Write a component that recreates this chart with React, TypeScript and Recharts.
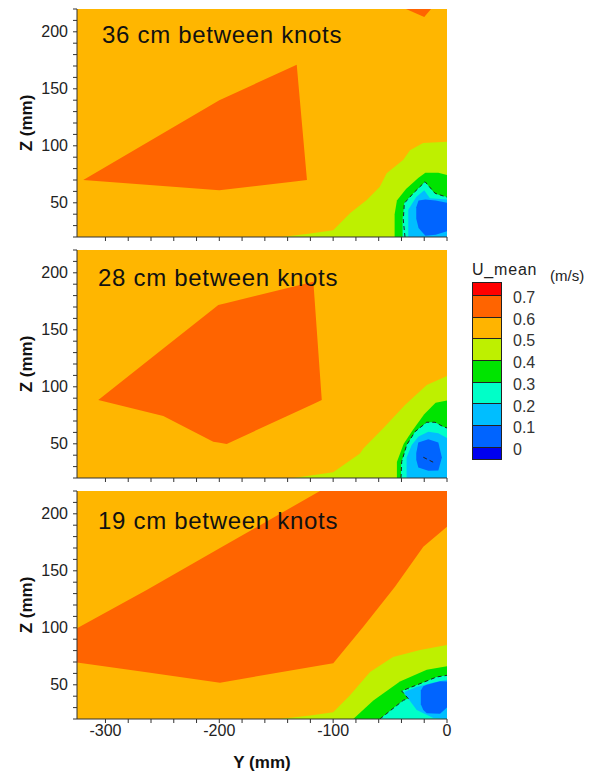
import { ComposedChart, Area, Line, XAxis, YAxis, CartesianGrid } from "recharts"

// contour levels, top of the colour bar first
const levels = ["0.7", "0.6", "0.5", "0.4", "0.3", "0.2", "0.1", "0"]
const levelColors = ["#FF0000", "#FF6400", "#FFB400", "#BEF000", "#00E400", "#00FFC8", "#00BEFF", "#0064FF", "#0000F0"]

const C_HOT = "#FF6400"
const C_BASE = "#FFB600"
const C_YG = "#BEF000"
const C_GREEN = "#00E400"
const C_AQUA = "#00FFC8"
const C_LBLUE = "#00BEFF"
const C_BLUE = "#0064FF"

const xTicks = [-300, -280, -260, -240, -220, -200, -180, -160, -140, -120, -100, -80, -60, -40, -20, 0]
const zTicks = [20, 30, 40, 50, 60, 70, 80, 90, 100, 110, 120, 130, 140, 150, 160, 170, 180, 190, 200, 210, 220]

// band regions: [Y, lower Z, upper Z]
const p1Hot: [number, number, number][] = [[-319.5, 70, 70], [-200, 61, 140], [-132, 69, 171], [-123, 70, 70]]
const p1HotTop: [number, number, number][] = [[-36, 220, 220], [-20, 213, 220], [-14, 220, 220]]
const p1Yg: [number, number, number][] = [[-145, 20, 20], [-120, 20, 23], [-100, 20, 26], [-85, 20, 41], [-70.5, 20, 52.5], [-59, 20, 64], [-53, 20, 76], [-38.6, 20, 87.6], [-32.5, 20, 96], [-21, 20, 102.5], [0, 20, 103.5]]
const p1Green: [number, number, number][] = [[-46, 20, 40], [-44, 20, 52], [-36, 20, 62], [-25, 20, 72], [-19, 20, 76.4], [-7.6, 20, 76.4], [0, 20, 74.4]]
const p1Aqua: [number, number, number][] = [[-39, 20, 36], [-37.5, 20, 50], [-30, 20, 58], [-19.3, 20, 68.5], [-10.5, 20, 58], [0, 20, 55]]
const p1LBlue: [number, number, number][] = [[-34, 20, 44], [-27, 20, 55], [-20, 20, 61], [-15, 20, 54], [0, 20, 53]]
const p1Blue: [number, number, number][] = [[-27, 36, 46], [-25, 28, 52], [-19, 21, 53], [-10, 22, 52], [0, 25, 50]]
const p1Dash: [number, number][] = [[-36.9, 20], [-38.4, 35], [-37.5, 49.6], [-29.6, 58.4], [-19.3, 68.5], [-10.5, 58.4], [0, 54.9]]

const p2Hot: [number, number, number][] = [[-306.3, 88.4, 88.4], [-249.2, 74.4, 133.6], [-205.3, 51.9, 168.3], [-200.9, 51.2, 171.8], [-193.5, 49.9, 173.6], [-140.8, 74.2, 186.4], [-117.4, 85, 192.2], [-110, 88.4, 88.4]]
const p2Yg: [number, number, number][] = [[-135, 20, 20], [-100, 20, 25], [-76.4, 20, 41.4], [-73.5, 20, 45.8], [-56, 20, 63.6], [-36.9, 20, 84], [-17.8, 20, 101.6], [0, 20, 109.5]]
const p2Green: [number, number, number][] = [[-44, 20, 34], [-38, 20, 50], [-30, 20, 62], [-20, 20, 76], [-10, 20, 86], [0, 20, 88]]
const p2Aqua: [number, number, number][] = [[-40.4, 20, 30], [-39.8, 20, 34.4], [-35.4, 20, 49], [-28.1, 20, 60.6], [-17.8, 20, 68.9], [-10.5, 20, 68.9], [-3.2, 20, 65], [0, 20, 63.9]]
const p2LBlue: [number, number, number][] = [[-35.5, 20, 38], [-31, 20, 49], [-25, 20, 56.3], [-16.4, 20, 60.6], [-7.6, 20, 59.2], [0, 20, 55]]
const p2Blue: [number, number, number][] = [[-27, 36, 42], [-25.2, 29.2, 51.2], [-16.4, 26.3, 54.1], [-7.6, 26.5, 51.2], [-4.5, 38, 38]]
const p2Dash: [number, number][] = [[-40.4, 20], [-39.8, 34.4], [-35.4, 49], [-28.1, 60.6], [-17.8, 68.9], [-10.5, 68.9], [-3.2, 65], [0, 63.9]]
const p2Dash2: [number, number][] = [[-20.8, 38.2], [-12, 33.8]]

const p3Hot: [number, number, number][] = [[-325, 69.5, 99.6], [-263.8, 61, 133.2], [-199.4, 51.9, 169.9], [-111.6, 66.9, 220], [-99.9, 68.9, 220], [-73.5, 101, 220], [-45.7, 136.1, 220], [-20.8, 171.2, 220], [0, 188.7, 220]]
const p3Yg: [number, number, number][] = [[-147, 20, 20], [-120, 20, 23], [-100, 20, 26], [-85, 20, 41], [-67.6, 20, 61.3], [-47.4, 20, 74.4], [-23.7, 20, 80.6], [0, 20, 85]]
const p3Green: [number, number, number][] = [[-82.3, 20, 20], [-64.7, 20, 36.2], [-41.3, 20, 52.8], [-17.8, 20, 63.3], [0, 20, 66.2]]
const p3AquaA: [number, number, number][] = [[-59, 20, 20], [-38.4, 20, 36.4], [-34, 20, 37.9], [-33.9, 20, 46.9], [-23.7, 20, 51], [-9, 20, 56.9], [0, 20, 58.3]]
const p3AquaB: [number, number, number][] = [[-39.8, 44.6, 44.6], [-34, 37.9, 46.9]]
const p3LBlue: [number, number, number][] = [[-37, 42, 44], [-26.6, 28, 48], [-12, 20.8, 52], [0, 20, 54.4]]
const p3Blue: [number, number, number][] = [[-23, 33, 45], [-20.8, 28, 48.7], [-17.8, 25, 50], [-6.1, 24.5, 53.1], [0, 30, 53]]
const p3Dash: [number, number][] = [[-59, 20], [-38.4, 36.4], [-34, 37.9], [-39.8, 44.6], [-23.7, 51], [-9, 56.9], [0, 58.3]]

const toRange = (rows: [number, number, number][]) => rows.map(([y, lo, hi]) => ({ y, r: [lo, hi] }))
const toLine = (rows: [number, number][]) => rows.map(([y, z]) => ({ y, z }))

const FONT = "'Liberation Sans', Arial, sans-serif"

type Layer = { rows: [number, number, number][]; color: string }

const ZTick = (props: any) => {
  const { x, y, payload } = props
  if (payload.value % 50 !== 0) return <g />
  return (
    <text x={x} y={y} textAnchor="end" dominantBaseline="central" fontFamily={FONT} fontSize={16} fill="#222">
      {payload.value}
    </text>
  )
}

const makeXTick = (show: boolean) => (props: any) => {
  const { x, y, payload } = props
  if (!show || payload.value % 100 !== 0) return <g />
  return (
    <text x={x} y={y} dy="0.71em" textAnchor="middle" fontFamily={FONT} fontSize={16} fill="#222">
      {payload.value}
    </text>
  )
}

function Panel({ layers, dashes, bottom }: { layers: Layer[]; dashes: [number, number][][]; bottom: boolean }) {
  const xh = bottom ? 60 : 10
  return (
    <ComposedChart width={594} height={9 + 228 + xh} margin={{ top: 9, right: 147, bottom: 0, left: 17 }}>
      <CartesianGrid fill={C_BASE} stroke="none" horizontal={false} vertical={false} />
      <XAxis
        type="number"
        dataKey="y"
        domain={[-325, 0]}
        allowDataOverflow
        ticks={xTicks}
        interval={0}
        height={xh}
        tickSize={4}
        tickMargin={2}
        tick={makeXTick(bottom)}
        stroke="#333"
        label={bottom ? { value: "Y (mm)", position: "insideBottom", offset: 11, style: { fontFamily: FONT, fontSize: 17, fontWeight: "bold", fill: "#111" } } : undefined}
      />
      <YAxis
        type="number"
        domain={[20, 220]}
        allowDataOverflow
        ticks={zTicks}
        interval={0}
        width={60}
        tickSize={4}
        tickMargin={5}
        tick={<ZTick />}
        stroke="#333"
        label={{ value: "Z (mm)", angle: -90, position: "insideLeft", offset: 9, style: { textAnchor: "middle", fontFamily: FONT, fontSize: 17, fontWeight: "bold", fill: "#111" } }}
      />
      {layers.map((l, i) => (
        <Area
          key={"a" + i}
          data={toRange(l.rows)}
          dataKey="r"
          type="linear"
          stroke="none"
          fill={l.color}
          fillOpacity={1}
          dot={false}
          activeDot={false}
          isAnimationActive={false}
        />
      ))}
      {dashes.map((d, i) => (
        <Line
          key={"d" + i}
          data={toLine(d)}
          dataKey="z"
          type="linear"
          stroke="#222"
          strokeWidth={1}
          strokeDasharray="4 3"
          dot={false}
          activeDot={false}
          isAnimationActive={false}
        />
      ))}
    </ComposedChart>
  )
}

const titleStyle = (top: number, left: number): React.CSSProperties => ({
  position: "absolute",
  top,
  left,
  fontFamily: FONT,
  fontSize: 24,
  lineHeight: "24px",
  letterSpacing: 0.7,
  color: "#111",
  whiteSpace: "nowrap",
})

function ColorBar() {
  const heights = [12, 21.7, 21.7, 21.7, 21.7, 21.7, 21.7, 21.7, 12.3]
  return (
    <div style={{ position: "absolute", left: 0, top: 0 }}>
      <div style={{ position: "absolute", left: 472, top: 262, fontFamily: FONT, fontSize: 16, lineHeight: "16px", letterSpacing: 0.8, color: "#222", whiteSpace: "nowrap" }}>
        U_mean
      </div>
      <div style={{ position: "absolute", left: 550, top: 268, fontFamily: FONT, fontSize: 15, lineHeight: "15px", color: "#222", whiteSpace: "nowrap" }}>
        (m/s)
      </div>
      <div style={{ position: "absolute", left: 472, top: 282, width: 28, border: "1px solid #222" }}>
        {levelColors.map((c, i) => (
          <div key={c} style={{ height: heights[i], background: c, borderTop: i > 0 ? "1px solid #222" : "none", boxSizing: "border-box" }} />
        ))}
      </div>
      {levels.map((t, i) => (
        <div
          key={t}
          style={{ position: "absolute", left: 513, top: 298 + i * 21.7 - 8, fontFamily: FONT, fontSize: 16, lineHeight: "16px", color: "#333" }}
        >
          {t}
        </div>
      ))}
    </div>
  )
}

export default function App() {
  const p1: Layer[] = [
    { rows: p1Hot, color: C_HOT },
    { rows: p1HotTop, color: C_HOT },
    { rows: p1Yg, color: C_YG },
    { rows: p1Green, color: C_GREEN },
    { rows: p1Aqua, color: C_AQUA },
    { rows: p1LBlue, color: C_LBLUE },
    { rows: p1Blue, color: C_BLUE },
  ]
  const p2: Layer[] = [
    { rows: p2Hot, color: C_HOT },
    { rows: p2Yg, color: C_YG },
    { rows: p2Green, color: C_GREEN },
    { rows: p2Aqua, color: C_AQUA },
    { rows: p2LBlue, color: C_LBLUE },
    { rows: p2Blue, color: C_BLUE },
  ]
  const p3: Layer[] = [
    { rows: p3Hot, color: C_HOT },
    { rows: p3Yg, color: C_YG },
    { rows: p3Green, color: C_GREEN },
    { rows: p3AquaA, color: C_AQUA },
    { rows: p3AquaB, color: C_AQUA },
    { rows: p3LBlue, color: C_LBLUE },
    { rows: p3Blue, color: C_BLUE },
  ]
  return (
    <div style={{ position: "absolute", left: 0, top: 0, width: 594, height: 777, background: "#fff" }}>
      <div style={{ position: "absolute", left: 0, top: 0 }}>
        <Panel layers={p1} dashes={[p1Dash]} bottom={false} />
      </div>
      <div style={{ position: "absolute", left: 0, top: 241 }}>
        <Panel layers={p2} dashes={[p2Dash, p2Dash2]} bottom={false} />
      </div>
      <div style={{ position: "absolute", left: 0, top: 482 }}>
        <Panel layers={p3} dashes={[p3Dash]} bottom={true} />
      </div>
      <div style={titleStyle(23, 102)}>36 cm between knots</div>
      <div style={titleStyle(266, 98)}>28 cm between knots</div>
      <div style={titleStyle(509, 98)}>19 cm between knots</div>
      <ColorBar />
    </div>
  )
}
